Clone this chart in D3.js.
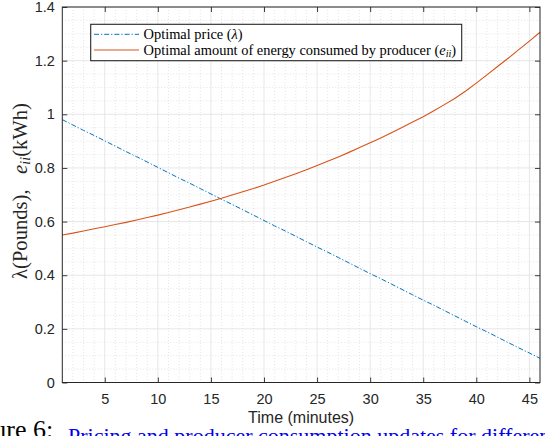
<!DOCTYPE html>
<html>
<head>
<meta charset="utf-8">
<script src="https://cdn.jsdelivr.net/npm/d3@7/dist/d3.min.js"></script>
<style>
  html, body { margin: 0; padding: 0; background: #fff; overflow: hidden; }
  svg { display: block; }
</style>
</head>
<body>
<svg id="chart" width="545" height="436"></svg>
<script>
// ---- data ----
const time = d3.range(1, 47); // minutes 1..46
const price = [0.980, 0.960, 0.940, 0.921, 0.901, 0.881, 0.861, 0.842, 0.822, 0.802,
               0.782, 0.762, 0.743, 0.723, 0.703, 0.683, 0.664, 0.644, 0.624, 0.604,
               0.584, 0.565, 0.545, 0.525, 0.505, 0.486, 0.466, 0.446, 0.426, 0.406,
               0.387, 0.367, 0.347, 0.327, 0.307, 0.288, 0.268, 0.248, 0.228, 0.208,
               0.189, 0.169, 0.149, 0.129, 0.110, 0.090];
const energy = [0.550, 0.557, 0.565, 0.573, 0.581, 0.589, 0.597, 0.606, 0.615, 0.624,
                0.634, 0.644, 0.654, 0.665, 0.676, 0.687, 0.699, 0.711, 0.723, 0.736,
                0.750, 0.764, 0.778, 0.793, 0.809, 0.825, 0.841, 0.858, 0.876, 0.894,
                0.912, 0.931, 0.951, 0.971, 0.991, 1.013, 1.036, 1.060, 1.087, 1.116,
                1.147, 1.178, 1.209, 1.241, 1.273, 1.306];
const xTicks = [5, 10, 15, 20, 25, 30, 35, 40, 45];
const yTicks = [0, 0.2, 0.4, 0.6, 0.8, 1, 1.2, 1.4];
const yTickLabels = ["0", "0.2", "0.4", "0.6", "0.8", "1", "1.2", "1.4"];
const legendLabels = ["Optimal price (", "Optimal amount of energy consumed by producer ("];
const xLabel = "Time (minutes)";

// ---- layout ----
const L = 62.3, R = 540, T = 7, B = 382.5;
const svg = d3.select("#chart");
const x = d3.scaleLinear().domain([1, 46]).range([L, R]);
const y = d3.scaleLinear().domain([0, 1.4]).range([B, T]);
const axisColor = "#262626";
const sans = "'Liberation Sans', Arial, Helvetica, sans-serif";
const serif = "'Liberation Serif', 'Times New Roman', serif";

function fitWidth(sel, target) {
  const n = sel.node();
  const w = n.getComputedTextLength ? n.getComputedTextLength() : n.getBBox().width;
  const fs = parseFloat(sel.attr("font-size"));
  const nf = fs * target / w;
  sel.attr("font-size", nf + "px");
  sel.selectAll("tspan").each(function () {
    const t = d3.select(this);
    const f = t.attr("font-size");
    if (f) t.attr("font-size", (parseFloat(f) * target / w) + "px");
  });
}

// background
svg.append("rect").attr("x", L).attr("y", T).attr("width", R - L).attr("height", B - T).attr("fill", "#fff");

// minor grid
const xMinor = time.filter(t => t % 5 !== 0 && t > 1 && t < 46);
const yMinor = d3.range(0, 29).map(i => +(i * 0.05).toFixed(2)).filter(v => Math.round(v * 100) % 20 !== 0);
const grid = svg.append("g");
grid.selectAll(".xm").data(xMinor).join("line")
  .attr("x1", d => x(d)).attr("x2", d => x(d)).attr("y1", T).attr("y2", B)
  .attr("stroke", "#d4d4d4").attr("stroke-width", 0.6).attr("stroke-dasharray", "1,2");
grid.selectAll(".ym").data(yMinor).join("line")
  .attr("x1", L).attr("x2", R).attr("y1", d => y(d)).attr("y2", d => y(d))
  .attr("stroke", "#d4d4d4").attr("stroke-width", 0.6).attr("stroke-dasharray", "1,2");
// major grid
grid.selectAll(".xM").data(xTicks).join("line")
  .attr("x1", d => x(d)).attr("x2", d => x(d)).attr("y1", T).attr("y2", B)
  .attr("stroke", "#e1e1e1").attr("stroke-width", 0.8);
grid.selectAll(".yM").data(yTicks).join("line")
  .attr("x1", L).attr("x2", R).attr("y1", d => y(d)).attr("y2", d => y(d))
  .attr("stroke", "#e1e1e1").attr("stroke-width", 0.8);

// lines
const line = (arr) => d3.line().x((d, i) => x(time[i])).y(d => y(d))(arr);
svg.append("path").attr("d", line(price)).attr("fill", "none")
  .attr("stroke", "#0072BD").attr("stroke-width", 1).attr("stroke-dasharray", "5,2,1.2,2");
svg.append("path").attr("d", line(energy)).attr("fill", "none")
  .attr("stroke", "#D95319").attr("stroke-width", 1.1);

// axes
function styleAxis(g) {
  g.select(".domain").remove();
  g.selectAll(".tick line").attr("stroke", axisColor).attr("stroke-width", 0.9);
  g.selectAll(".tick text").attr("fill", axisColor).attr("font-family", sans).attr("font-size", "14.5px");
}
svg.append("g").attr("transform", `translate(0,${B})`)
  .call(d3.axisBottom(x).tickValues(xTicks).tickSize(-5).tickPadding(11).tickFormat(d3.format("d")))
  .call(styleAxis);
svg.append("g").attr("transform", `translate(0,${T})`)
  .call(d3.axisTop(x).tickValues(xTicks).tickSize(-5).tickFormat(""))
  .call(styleAxis);
svg.append("g").attr("transform", `translate(${L},0)`)
  .call(d3.axisLeft(y).tickValues(yTicks).tickSize(-5).tickPadding(7.5).tickFormat((d, i) => yTickLabels[i]))
  .call(styleAxis);
svg.append("g").attr("transform", `translate(${R},0)`)
  .call(d3.axisRight(y).tickValues(yTicks).tickSize(-5).tickFormat(""))
  .call(styleAxis);
// box
svg.append("rect").attr("x", L).attr("y", T).attr("width", R - L).attr("height", B - T)
  .attr("fill", "none").attr("stroke", axisColor).attr("stroke-width", 1);

// x label
svg.append("text").attr("x", (L + R) / 2).attr("y", 423).attr("text-anchor", "middle")
  .attr("font-family", sans).attr("font-size", "16px").attr("fill", axisColor).text(xLabel);

// y label
const yl = svg.append("text").attr("transform", `translate(27,191) rotate(-90)`)
  .attr("text-anchor", "middle").attr("font-family", serif).attr("font-size", "15px").attr("fill", axisColor);
yl.append("tspan").text("λ(Pounds),\u00a0\u00a0\u00a0");
yl.append("tspan").attr("font-style", "italic").text("e");
yl.append("tspan").attr("font-style", "italic").attr("font-size", "10.5px").attr("dy", 2.5).text("ii");
yl.append("tspan").attr("dy", -2.5).text("(kWh)");
fitWidth(yl, 176);

// legend
const lg = svg.append("g");
lg.append("rect").attr("x", 90.7).attr("y", 24.3).attr("width", 371).attr("height", 36.4)
  .attr("fill", "#fff").attr("stroke", axisColor).attr("stroke-width", 1.1);
lg.append("line").attr("x1", 94).attr("x2", 139).attr("y1", 34.3).attr("y2", 34.3)
  .attr("stroke", "#0072BD").attr("stroke-width", 1).attr("stroke-dasharray", "5,2,1.2,2");
lg.append("line").attr("x1", 94).attr("x2", 139).attr("y1", 50).attr("y2", 50)
  .attr("stroke", "#D95319").attr("stroke-width", 1.1);
const t1 = lg.append("text").attr("x", 143.5).attr("y", 38.8).attr("font-family", serif).attr("font-size", "14px").attr("fill", "#000");
t1.append("tspan").text(legendLabels[0]);
t1.append("tspan").attr("font-style", "italic").text("λ");
t1.append("tspan").text(")");
const t2 = lg.append("text").attr("x", 143.5).attr("y", 54.6).attr("font-family", serif).attr("font-size", "14px").attr("fill", "#000");
t2.append("tspan").text(legendLabels[1]);
t2.append("tspan").attr("font-style", "italic").text("e");
t2.append("tspan").attr("font-style", "italic").attr("font-size", "10px").attr("dy", 2.5).text("ii");
t2.append("tspan").attr("dy", -2.5).text(")");
const scaleL = 313 / t2.node().getComputedTextLength();
[t1, t2].forEach(t => {
  t.attr("font-size", (14 * scaleL) + "px");
  t.selectAll("tspan").filter(function () { return d3.select(this).attr("font-size"); })
    .attr("font-size", (10 * scaleL) + "px");
});

// caption fragment (cropped page)
const cap = svg.append("text").attr("y", 438).attr("font-family", serif).attr("font-size", "26px").attr("fill", "#000").text("Figure 6:");
const pre = cap.node().getSubStringLength(0, 7);
cap.attr("x", 33 - pre);
svg.append("text").attr("x", 68).attr("y", 443).attr("font-family", serif).attr("font-size", "22px")
  .attr("fill", "#0000ee").text("Pricing and producer consumption updates for different");
</script>
</body>
</html>
